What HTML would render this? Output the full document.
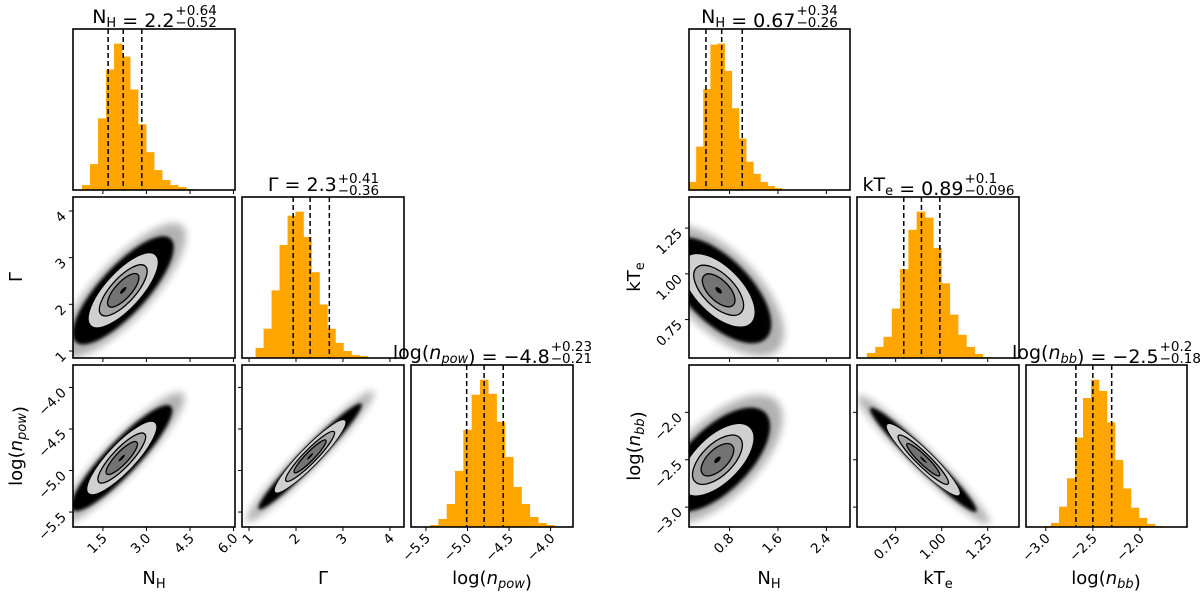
<!DOCTYPE html>
<html><head><meta charset="utf-8"><style>
html,body{margin:0;padding:0;background:#fff}
svg{display:block;font-family:"DejaVu Sans","Liberation Sans",sans-serif}
</style></head><body>
<svg id="fig" width="1200" height="599" viewBox="0 0 1200 599" xmlns="http://www.w3.org/2000/svg">
<defs>
<filter id="blur2" x="-20%" y="-20%" width="140%" height="140%"><feGaussianBlur stdDeviation="1.5"/></filter>
<filter id="blur5" x="-30%" y="-30%" width="160%" height="160%"><feGaussianBlur stdDeviation="4"/></filter>
</defs>
</svg>
<script>
// ---------- data: left corner (power law) ----------
const nhL_hist_start = 0.78, nhL_hist_width = 0.276;
const nhL_hist_counts = [5,26,72,121,147,134,101,66,38,20,10,5,3,1];
const nhL_quantiles = [1.68, 2.2, 2.84];
const gam_hist_start = 1.14, gam_hist_width = 0.17;
const gam_hist_counts = [10,29,67,112,141,145,120,85,53,29,15,7,3,2];
const gam_quantiles = [1.94, 2.3, 2.71];
const npow_hist_start = -5.45, npow_hist_width = 0.1;
const npow_hist_counts = [2,8,23,56,97,132,147,133,105,70,40,23,10,4,2];
const npow_quantiles = [-5.01, -4.8, -4.57];
// ---------- data: right corner (blackbody) ----------
const nhR_hist_start = 0.13, nhR_hist_width = 0.118;
const nhR_hist_counts = [8,43,100,144,145,118,81,51,28,16,8,4,2];
const nhR_quantiles = [0.41, 0.67, 1.01];
const kte_hist_start = 0.594, kte_hist_width = 0.045;
const kte_hist_counts = [5,11,21,49,88,127,145,139,109,74,43,23,11,4,1];
const kte_quantiles = [0.794, 0.89, 0.99];
const nbb_hist_start = -3.03, nbb_hist_width = 0.085;
const nbb_hist_counts = [1,4,20,48,88,127,145,134,103,66,38,19,9,3,1];
const nbb_quantiles = [-2.68, -2.5, -2.3];
// 2D posterior summaries: [meanX, meanY, sigmaX, sigmaY, rho]
const post_nhL_gam = [2.2, 2.3, 0.6, 0.4, 0.75];
const post_nhL_npow = [2.15, -4.85, 0.6, 0.22, 0.85];
const post_gam_npow = [2.3, -4.83, 0.38, 0.22, 0.93];
const post_nhR_kte = [0.62, 0.91, 0.3, 0.1, -0.6];
const post_nhR_nbb = [0.6, -2.5, 0.3, 0.19, 0.6];
const post_kte_nbb = [0.9, -2.5, 0.1, 0.19, -0.93];
// ticks
const nhL_ticks = [1.5, 3.0, 4.5, 6.0], nhL_tick_labels = ["1.5","3.0","4.5","6.0"];
const gam_ticks = [1, 2, 3, 4], gam_tick_labels = ["1","2","3","4"];
const npow_ticks = [-5.5, -5.0, -4.5, -4.0], npow_tick_labels = ["\u22125.5","\u22125.0","\u22124.5","\u22124.0"];
const nhR_ticks = [0.8, 1.6, 2.4], nhR_tick_labels = ["0.8","1.6","2.4"];
const kte_ticks = [0.75, 1.0, 1.25], kte_tick_labels = ["0.75","1.00","1.25"];
const nbb_ticks = [-3.0, -2.5, -2.0], nbb_tick_labels = ["\u22123.0","\u22122.5","\u22122.0"];

const NS = "http://www.w3.org/2000/svg";
const svg = document.getElementById('fig');
function mk(tag, attrs, parent) {
  const e = document.createElementNS(NS, tag);
  for (const k in attrs) e.setAttribute(k, attrs[k]);
  (parent || svg).appendChild(e);
  return e;
}
function axis(lo, hi, p0, p1) { return v => p0 + (v - lo) / (hi - lo) * (p1 - p0); }

const rows = [[29,190],[197,358],[365,527]];
const colsL = [[73,235],[242,404],[411,573]];
const colsR = [[689,850],[857,1019],[1026,1187]];
const varsL = [
  {range:[0.47,6.05], ticks:nhL_ticks, labels:nhL_tick_labels, hs:nhL_hist_start, hw:nhL_hist_width, hc:nhL_hist_counts, q:nhL_quantiles, nm:'nh'},
  {range:[0.85,4.3], ticks:gam_ticks, labels:gam_tick_labels, hs:gam_hist_start, hw:gam_hist_width, hc:gam_hist_counts, q:gam_quantiles, nm:'gamma'},
  {range:[-5.68,-3.73], ticks:npow_ticks, labels:npow_tick_labels, hs:npow_hist_start, hw:npow_hist_width, hc:npow_hist_counts, q:npow_quantiles, nm:'log-npow'}
];
const varsR = [
  {range:[0.13,2.79], ticks:nhR_ticks, labels:nhR_tick_labels, hs:nhR_hist_start, hw:nhR_hist_width, hc:nhR_hist_counts, q:nhR_quantiles, nm:'nh'},
  {range:[0.54,1.42], ticks:kte_ticks, labels:kte_tick_labels, hs:kte_hist_start, hw:kte_hist_width, hc:kte_hist_counts, q:kte_quantiles, nm:'kte'},
  {range:[-3.21,-1.5], ticks:nbb_ticks, labels:nbb_tick_labels, hs:nbb_hist_start, hw:nbb_hist_width, hc:nbb_hist_counts, q:nbb_quantiles, nm:'log-nbb'}
];
const postsL = {'1,0':post_nhL_gam, '2,0':post_nhL_npow, '2,1':post_gam_npow};
const postsR = {'1,0':post_nhR_kte, '2,0':post_nhR_nbb, '2,1':post_kte_nbb};
let clipId = 0;

function ellipse(g, post, xs, ys, r, attrs, rhoBoost) {
  const rho = Math.max(-0.97, Math.min(0.97, post[4] * (rhoBoost || 1)));
  const kx = (xs(1) - xs(0)), ky = (ys(1) - ys(0));
  const a = Math.pow(post[2]*kx,2), d = Math.pow(post[3]*ky,2);
  const b = rho*post[2]*post[3]*kx*ky;
  const tr = (a+d)/2, disc = Math.sqrt(Math.pow((a-d)/2,2)+b*b);
  const l1 = tr+disc, l2 = Math.max(tr-disc, 0.01);
  const ang = 0.5*Math.atan2(2*b, a-d)*180/Math.PI;
  const cx = xs(post[0]), cy = ys(post[1]);
  return mk('ellipse', Object.assign({cx:cx, cy:cy, rx:r*Math.sqrt(l1), ry:r*Math.sqrt(l2), transform:`rotate(${ang} ${cx} ${cy})`}, attrs), g);
}

function drawCorner(cols, vars, posts, side) {
  for (let i = 0; i < 3; i++) {
    for (let j = 0; j <= i; j++) {
      const [x0,x1] = cols[j], [y0,y1] = rows[i];
      const g = mk('g', {});
      
      
      const cid = 'c' + (clipId++);
      const cp = mk('clipPath', {id:cid}, g);
      mk('rect', {x:x0, y:y0, width:x1-x0, height:y1-y0}, cp);
      const inner = mk('g', {'clip-path':`url(#${cid})`}, g);
      const xs = axis(vars[j].range[0], vars[j].range[1], x0, x1);
      if (i === j) {
        const v = vars[i];
        const maxc = Math.max(...v.hc);
        const ys = axis(0, maxc*1.1, y1, y0);
        v.hc.forEach((c, k) => {
          const l = xs(v.hs + k*v.hw), r = xs(v.hs + (k+1)*v.hw);
          const bar = mk('rect', {x:l, y:ys(c), width:r-l+0.3, height:y1-ys(c), fill:'#ffa500'}, inner);
          
          
        });
        v.q.forEach((qv, k) => {
          const ln = mk('line', {x1:xs(qv), x2:xs(qv), y1:y0, y2:y1, stroke:'#000', 'stroke-width':1.5, 'stroke-dasharray':'5,3'}, inner);
          
          
        });
      } else {
        const ys = axis(vars[i].range[0], vars[i].range[1], y1, y0);
        const post = posts[i+','+j];
        const halo = ellipse(inner, post, xs, ys, 3.6, {fill:'#000', opacity:0.3, filter:'url(#blur5)'}, 1.08);
        
        
        const cloud = ellipse(inner, post, xs, ys, 2.9, {fill:'#000', filter:'url(#blur2)'}, 1.06);
        
        
        const c1 = ellipse(inner, post, xs, ys, 2.0, {fill:'#d0d0d0', stroke:'#000', 'stroke-width':0.8});
        
        
        const c2 = ellipse(inner, post, xs, ys, 1.37, {fill:'#a4a4a4', stroke:'#000', 'stroke-width':1.3});
        
        
        const c3 = ellipse(inner, post, xs, ys, 0.9, {fill:'#737373', stroke:'#000', 'stroke-width':1.3});
        
        
        const c4 = ellipse(inner, post, xs, ys, 0.18, {fill:'#000'});
        
        
        vars[i].ticks.forEach((t, k) => {
          const y = ys(t);
          mk('line', {x1:x0-4, x2:x0, y1:y, y2:y, stroke:'#000', 'stroke-width':1}, g);
          if (j === 0) {
            const tl = mk('text', {x:x0-6, y:y+6, 'font-size':13.5, 'text-anchor':'end', transform:`rotate(-45 ${x0-6} ${y+6})`}, g);
            tl.textContent = vars[i].labels[k];
            
            
          }
        });
      }
      vars[j].ticks.forEach((t, k) => {
        const x = xs(t);
        if (x < x0-1 || x > x1+1) return;
        mk('line', {x1:x, x2:x, y1:y1, y2:y1+4, stroke:'#000', 'stroke-width':1}, g);
        if (i === 2) {
          const tl = mk('text', {x:x+5, y:y1+12, 'font-size':13.5, 'text-anchor':'end', transform:`rotate(-45 ${x+5} ${y1+12})`}, g);
          tl.textContent = vars[j].labels[k];
          
          
        }
      });
      const frame = mk('rect', {x:x0, y:y0, width:x1-x0, height:y1-y0, fill:'none', stroke:'#000', 'stroke-width':1.6}, g);
      
      
    }
  }
}
drawCorner(colsL, varsL, postsL, 'left');
drawCorner(colsR, varsR, postsR, 'right');

// ---------- titles & labels ----------
function label(html, x, y, anchor, rot, name, fs) {
  const t = mk('text', {x:x, y:y, 'font-size':fs || 18, 'text-anchor':anchor});
  if (rot) t.setAttribute('transform', `rotate(-90 ${x} ${y})`);
  t.innerHTML = html;
  
  
  return t;
}
const sub = s => `<tspan font-size="13" dy="4">${s}</tspan><tspan dy="-4"></tspan>`;
const it = s => `<tspan font-style="italic">${s}</tspan>`;
function title(main, centerX, baseY, sup, subs, name) {
  const t = label(main, 0, baseY, 'start', false, name, 19);
  const s1 = mk('text', {x:0, y:baseY-8, 'font-size':13.5});
  s1.textContent = sup;
  
  
  const s2 = mk('text', {x:0, y:baseY+4, 'font-size':13.5});
  s2.textContent = subs;
  
  
  const wm = t.getComputedTextLength();
  const ws = Math.max(s1.getComputedTextLength(), s2.getComputedTextLength());
  const start = centerX - (wm + ws) / 2;
  t.setAttribute('x', start);
  s1.setAttribute('x', start + wm + 1);
  s2.setAttribute('x', start + wm + 1);
}
title('N' + sub('H') + ' = 2.2', 154, 23, '+0.64', '\u22120.52', 'left-nh-title');
title('\u0393 = 2.3', 323, 191, '+0.41', '\u22120.36', 'left-gamma-title');
title('log(' + it('n') + sub('<tspan font-style="italic">pow</tspan>') + ') = \u22124.8', 492, 359, '+0.23', '\u22120.21', 'left-npow-title');
title('N' + sub('H') + ' = 0.67', 769, 23, '+0.34', '\u22120.26', 'right-nh-title');
title('kT' + sub('e') + ' = 0.89', 938, 191, '+0.1', '\u22120.096', 'right-kte-title');
title('log(' + it('n') + sub('<tspan font-style="italic">bb</tspan>') + ') = \u22122.5', 1106, 359, '+0.2', '\u22120.18', 'right-nbb-title');

label('N' + sub('H'), 154, 584, 'middle', false, 'left-x-axis-title-nh');
label('\u0393', 323, 584, 'middle', false, 'left-x-axis-title-gamma');
label('log(' + it('n') + sub('<tspan font-style="italic">pow</tspan>') + ')', 492, 584, 'middle', false, 'left-x-axis-title-npow');
label('N' + sub('H'), 769, 584, 'middle', false, 'right-x-axis-title-nh');
label('kT' + sub('e'), 938, 584, 'middle', false, 'right-x-axis-title-kte');
label('log(' + it('n') + sub('<tspan font-style="italic">bb</tspan>') + ')', 1106, 584, 'middle', false, 'right-x-axis-title-nbb');
label('\u0393', 22, 277, 'middle', true, 'left-y-axis-title-gamma');
label('log(' + it('n') + sub('<tspan font-style="italic">pow</tspan>') + ')', 22, 446, 'middle', true, 'left-y-axis-title-npow');
label('kT' + sub('e'), 640, 277, 'middle', true, 'right-y-axis-title-kte');
label('log(' + it('n') + sub('<tspan font-style="italic">bb</tspan>') + ')', 640, 446, 'middle', true, 'right-y-axis-title-nbb');
</script>
</body></html>
